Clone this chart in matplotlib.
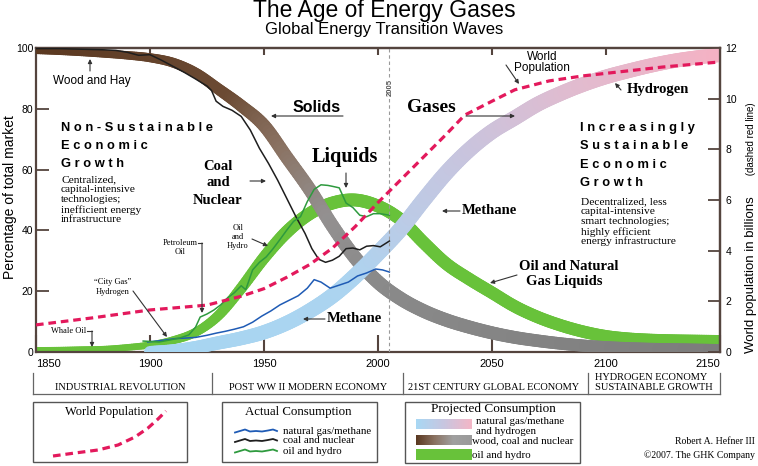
import numpy as np
import matplotlib.pyplot as plt
from matplotlib.collections import LineCollection
from matplotlib.colors import to_rgb
from matplotlib.patches import Rectangle

plt.rcParams['font.family'] = ['Liberation Sans', 'DejaVu Sans']
plt.rcParams['lines.scale_dashes'] = False
SERIF = ['Liberation Serif', 'DejaVu Serif']

############ data ############
# projected waves, % of total market
years = list(range(1850, 2151, 10))
solids = [99.0, 98.8, 98.5, 98.1, 97.6, 96.8, 95.2, 91.8, 86.5, 81.0, 74.5,
          64.0, 53.5, 41.5, 31.0, 23.0, 17.5, 13.5, 10.5, 8.2, 6.3,
          4.8, 3.7, 2.8, 2.1, 1.6, 1.3, 1.1, 1.0, 0.9, 0.8]
liquids = [0.8, 0.8, 0.9, 1.0, 1.5, 2.3, 3.8, 6.5, 12.0, 21.0, 31.0,
           39.5, 45.5, 49.0, 50.0, 48.0, 43.5, 36.0, 29.0, 24.0, 19.5,
           15.0, 11.5, 8.8, 6.7, 5.2, 4.4, 4.0, 3.8, 3.7, 3.6]
gas_years = list(range(1900, 2151, 10))
gases = [0.0, 0.5, 1.5, 3.0, 4.5, 6.5, 9.5, 13.5, 18.5, 25.0, 32.5,
         40.5, 50.0, 59.0, 66.5, 72.5, 77.0, 81.5, 85.0, 88.0, 90.5,
         92.5, 94.3, 95.8, 96.9, 97.7]

# actual consumption, % of total market
coal_years = [1850, 1860, 1870, 1880, 1885, 1890, 1895, 1900, 1905, 1910, 1915, 1920, 1925,
              1927, 1929, 1932, 1936, 1940, 1944, 1948, 1952, 1956, 1960, 1964, 1968,
              1971, 1974, 1977, 1980, 1983, 1986, 1989, 1992, 1995, 1998, 2001, 2005]
coal_vals = [99.8, 99.8, 99.6, 99.4, 99.2, 98.6, 97.6, 97.8, 96.0, 94.0, 92.0, 89.8, 87.5,
             86.0, 82.5, 80.8, 79.5, 77.5, 73.0, 67.0, 62.0, 56.5, 50.5, 44.5, 39.0,
             34.0, 30.5, 29.5, 30.2, 31.5, 34.0, 34.2, 33.6, 34.8, 35.0, 34.6, 36.5]
oil_years = [1897, 1904, 1909, 1913, 1917, 1920, 1922, 1925, 1928, 1931, 1934, 1937,
             1940, 1942, 1945, 1948, 1951, 1954, 1957, 1960, 1963, 1966, 1969, 1972,
             1975, 1978, 1980, 1983, 1986, 1989, 1992, 1995, 1998, 2001, 2005]
oil_vals = [3.6, 3.3, 4.0, 4.6, 5.6, 8.2, 11.5, 12.5, 13.8, 15.5, 17.8, 19.5,
            21.8, 20.5, 27.0, 29.5, 31.3, 34.0, 37.0, 40.1, 43.0, 44.5, 49.5, 53.5,
            55.0, 54.8, 54.5, 54.0, 49.0, 47.5, 45.0, 44.5, 45.5, 45.5, 45.0]
ngas_years = [1899, 1903, 1907, 1911, 1916, 1920, 1925, 1929, 1933, 1937, 1941, 1945,
              1949, 1953, 1957, 1961, 1965, 1969, 1972, 1975, 1979, 1983, 1987, 1991,
              1995, 1999, 2002, 2005]
ngas_vals = [3.3, 3.6, 4.0, 4.4, 4.6, 4.8, 5.5, 6.2, 6.8, 7.5, 8.3, 9.8,
             11.8, 13.5, 15.5, 17.0, 18.5, 21.0, 23.8, 23.0, 21.0, 22.0, 23.0, 25.0,
             26.0, 27.3, 27.0, 26.3]

# world population, billions (right axis)
pop_years = [1850, 1875, 1900, 1925, 1940, 1950, 1960, 1970, 1980, 1990, 2000,
             2010, 2020, 2030, 2038, 2050, 2060, 2075, 2090, 2100, 2125, 2150]
pop_vals = [1.07, 1.35, 1.66, 1.85, 2.2, 2.5, 2.95, 3.45, 4.1, 4.95, 5.9,
            6.8, 7.7, 8.6, 9.35, 9.9, 10.35, 10.7, 10.9, 11.0, 11.25, 11.45]

x_ticks = [1850, 1900, 1950, 2000, 2050, 2100, 2150]
eras = ['INDUSTRIAL REVOLUTION', 'POST WW II MODERN ECONOMY', '21ST CENTURY GLOBAL ECONOMY']

# legend sample shapes (pixels)
leg_pop_x = [53, 75, 98, 118, 135, 148, 158, 166]
leg_pop_y = [456, 453, 450, 445, 437, 428, 419, 411]
leg_wig_x = [235, 240, 245, 250, 256, 262, 268, 273, 277]
leg_wig_dy = [1.5, 0, -1.5, 0.5, 0, 0.5, -0.5, -1.5, 0]

############ colours ############
spc = '#54443e'
RED = '#e3195c'
GREEN = '#68c23a'
solid_stops = ([1850, 1935, 1958, 1978, 2000, 2150],
               ['#5a3820', '#6b4a33', '#8a7262', '#939090', '#8a8a8a', '#7c7c7c'])
gas_stops = ([1900, 1990, 2015, 2045, 2085, 2150],
             ['#a6d6f2', '#acd4f0', '#bccbe6', '#cbc3dc', '#e0bcd0', '#f4b2c4'])


def smooth(xs, ys, n=10):
    # catmull-rom path through the read points, only for drawing
    p = np.column_stack([xs, ys]).astype(float)
    p = np.vstack([2 * p[0] - p[1], p, 2 * p[-1] - p[-2]])
    out = []
    t = np.linspace(0, 1, n, endpoint=False)[:, None]
    for i in range(1, len(p) - 2):
        p0, p1, p2, p3 = p[i - 1], p[i], p[i + 1], p[i + 2]
        out.append(0.5 * (2 * p1 + (-p0 + p2) * t + (2 * p0 - 5 * p1 + 4 * p2 - p3) * t ** 2
                          + (-p0 + 3 * p1 - 3 * p2 + p3) * t ** 3))
    out.append(p[-2][None, :])
    out = np.vstack(out)
    return out[:, 0], out[:, 1]


def band(ax, xs, ys, w_years, w_px, c_years, c_list, z):
    px, py = smooth(xs, ys)
    pts = np.column_stack([px, py]).reshape(-1, 1, 2)
    segs = np.concatenate([pts[:-1], pts[1:]], axis=1)
    mid = (px[:-1] + px[1:]) / 2
    rgb = np.array([to_rgb(c) for c in c_list])
    cols = np.column_stack([np.interp(mid, c_years, rgb[:, k]) for k in range(3)])
    lws = np.interp(mid, w_years, w_px) * 0.72
    lc = LineCollection(segs, colors=cols, linewidths=lws, capstyle='round',
                        joinstyle='round', zorder=z)
    ax.add_collection(lc)


fig = plt.figure(figsize=(7.58, 4.66), dpi=100)
ax = fig.add_axes([36 / 758, 1 - 352 / 466, 684 / 758, 304 / 466])
ax.set_xlim(1850, 2150)
ax.set_ylim(0, 100)

band(ax, years, liquids, [1850, 1900, 1960, 2150], [5, 7, 13, 12],
     [1850, 2150], [GREEN, GREEN], 2)
band(ax, years, solids, [1850, 1900, 1950, 2000, 2150], [6, 9, 13, 14, 11],
     solid_stops[0], solid_stops[1], 3)
band(ax, gas_years, gases, [1900, 1990, 2150], [12, 16, 14],
     gas_stops[0], gas_stops[1], 4)

ax.plot(ngas_years, ngas_vals, color='#1f5bb5', lw=1.1, zorder=6)
ax.plot(coal_years, coal_vals, color='#1e1e1e', lw=1.1, zorder=6)
ax.plot(oil_years, oil_vals, color='#2e9a3e', lw=1.1, zorder=6)
ax.axvline(2005, color='#9a9a9a', lw=0.8, dashes=(2.5, 2), zorder=7)

for s in ax.spines.values():
    s.set_color(spc)
    s.set_linewidth(1.6)
ax.set_yticks([0, 20, 40, 60, 80, 100])
ax.tick_params(axis='y', direction='in', length=9, width=1.3, color=spc,
               labelsize=7.5, pad=2)
ax.set_xticks(x_ticks, [str(v) for v in x_ticks])
ax.tick_params(axis='x', direction='in', length=12, width=1.5, color=spc,
               labelsize=8, pad=5)
xl = ax.get_xticklabels()
xl[0].set_ha('left')
xl[-1].set_ha('right')

sec = ax.secondary_xaxis('top')
sec.set_xticks([1900, 1950, 2000, 2050, 2100])
sec.set_xticklabels([])
sec.tick_params(direction='in', length=5, width=1.5, color=spc)
sec.spines['top'].set_color(spc)
sec.spines['top'].set_linewidth(1.6)

ax2 = ax.twinx()
ax2.set_ylim(0, 12)
ax2.set_yticks(range(0, 13, 2))
ax2.tick_params(direction='in', length=9, width=1.3, color=spc, labelsize=7.5, pad=4)
for k in ['left', 'top', 'bottom']:
    ax2.spines[k].set_visible(False)
ax2.spines['right'].set_color(spc)
ax2.spines['right'].set_linewidth(1.6)
ax2.plot(pop_years, pop_vals, color=RED, lw=2.3, dashes=(5.5, 3.5), zorder=8)

############ overlay in pixel units for the notes ############
ov = fig.add_axes([0, 0, 1, 1])
ov.axis('off')


def txt(x, y, s, size, serif=False, bold=False, ha='left', **kw):
    ov.text(x, y, s, fontsize=size, family=SERIF if serif else None,
            fontweight='bold' if bold else 'normal', ha=ha, va='center', **kw)


def arrow(tail, head):
    ov.annotate('', xy=head, xytext=tail,
                arrowprops=dict(arrowstyle='-|>', color='#333333', lw=0.8,
                                mutation_scale=6, shrinkA=0, shrinkB=0))


ov.text(384, 17, 'The Age of Energy Gases', fontsize=16.5, ha='center', va='baseline')
ov.text(384, 34, 'Global Energy Transition Waves', fontsize=12, ha='center', va='baseline')

ov.text(10, 197, 'Percentage of total market', fontsize=10, rotation=90,
        ha='center', va='center')
ov.text(751, 353, 'World population in billions', fontsize=9.5, rotation=90,
        ha='left', va='center', rotation_mode='anchor')
ov.text(751, 178, ' (dashed red line)', fontsize=7, rotation=90,
        ha='left', va='center', rotation_mode='anchor')

txt(53, 81, 'Wood and Hay', 8.5)
arrow((90, 71), (90, 59))
txt(293, 108, 'Solids', 11.5, bold=True)
arrow((343, 116), (271, 116))

for i, s in enumerate(['Non-Sustainable', 'Economic', 'Growth']):
    txt(61, 128 + 18 * i, ' '.join(s), 9.3, bold=True)
for i, s in enumerate(['Centralized,', 'capital-intensive', 'technologies;',
                       'inefficient energy', 'infrastructure']):
    txt(61, 180 + 9.9 * i, s, 8.2, serif=True)

for i, s in enumerate(['Increasingly', 'Sustainable', 'Economic', 'Growth']):
    txt(580, 128 + 18.3 * i, ' '.join(s), 9.3, bold=True)
for i, s in enumerate(['Decentralized, less', 'capital-intensive', 'smart technologies;',
                       'highly efficient', 'energy infrastructure']):
    txt(581, 202 + 9.9 * i, s, 8.2, serif=True)

for i, s in enumerate(['Coal', 'and', 'Nuclear']):
    txt(218, 166 + 17 * i, s, 10.5, serif=True, bold=True, ha='center')
arrow((250, 181), (266, 181))
txt(345, 157, 'Liquids', 14.5, serif=True, bold=True, ha='center')
arrow((346, 173), (346, 188))
txt(431, 108, 'Gases', 14, serif=True, bold=True, ha='center')
arrow((466, 116), (515, 116))
txt(542, 57, 'World', 8.5, ha='center')
txt(542, 68, 'Population', 8.5, ha='center')
arrow((506, 65), (519, 84))
txt(627, 90, 'Hydrogen', 10.5, serif=True, bold=True)
arrow((621, 90), (615, 83))
txt(462, 211, 'Methane', 10.5, serif=True, bold=True)
arrow((460, 211), (442, 211))
txt(327, 319, 'Methane', 10.5, serif=True, bold=True)
arrow((325, 319), (303, 319))
txt(569, 266, 'Oil and Natural', 10.5, serif=True, bold=True, ha='center')
txt(564, 282, 'Gas Liquids', 10.5, serif=True, bold=True, ha='center')
arrow((517, 275), (490, 283))
for i, s in enumerate(['Oil', 'and', 'Hydro']):
    txt(238, 228 + 9 * i, s, 6, serif=True, ha='center')
arrow((252, 239), (268, 246))
txt(180, 243, 'Petroleum', 6, serif=True, ha='center')
txt(180, 252, 'Oil', 6, serif=True, ha='center')
ov.plot([198, 202], [243, 243], color='#333333', lw=0.8)
arrow((202, 243), (202, 313))
txt(113, 282, '\u201cCity Gas\u201d', 6, serif=True, ha='center')
txt(113, 292, 'Hydrogen', 6, serif=True, ha='center')
arrow((133, 291), (167, 337))
txt(51, 331, 'Whale Oil', 6, serif=True)
ov.plot([87, 92], [331, 331], color='#333333', lw=0.8)
arrow((92, 331), (92, 347))
ov.text(390, 87, '2005', fontsize=5.5, rotation=90, ha='center', va='center',
        color='#555555', fontweight='bold',
        bbox=dict(fc='white', ec='none', pad=0.5))

############ era strip ############
ov.plot([33, 720], [394, 394], color='#666666', lw=0.9)
for xv in [33, 212, 403, 588, 720]:
    ov.plot([xv, xv], [373, 394], color='#666666', lw=0.9)
for xc, s in zip([120, 308, 494], eras):
    txt(xc, 387, s, 7.5, serif=True, ha='center')
txt(595, 377, 'HYDROGEN ECONOMY', 7.5, serif=True)
txt(595, 388, 'SUSTAINABLE GROWTH', 7.5, serif=True)

############ legend boxes ############
for (x0, y0, w, h) in [(33, 402, 154, 60), (222, 402, 155, 60), (405, 402, 175, 61)]:
    ov.add_patch(Rectangle((x0, y0), w, h, fill=False, ec='#555555', lw=1))

txt(109, 412, 'World Population', 9, serif=True, ha='center')
ov.plot(leg_pop_x, leg_pop_y, color=RED, lw=2.3, dashes=(5.5, 3.5))

txt(298, 412, 'Actual Consumption', 9.3, serif=True, ha='center')
for yy, c, s in [(431, '#1f5bb5', 'natural gas/methane'), (440.5, '#1e1e1e', 'coal and nuclear'),
                 (451, '#2e9a3e', 'oil and hydro')]:
    ov.plot(leg_wig_x, [yy + d for d in leg_wig_dy], color=c, lw=1.3)
    txt(283, yy, s, 7.8, serif=True)

txt(493, 409, 'Projected Consumption', 9.5, serif=True, ha='center')


def grad_img(stops, n=120):
    pos = np.linspace(0, 1, len(stops))
    rgb = np.array([to_rgb(c) for c in stops])
    u = np.linspace(0, 1, n)
    return np.stack([np.column_stack([np.interp(u, pos, rgb[:, k]) for k in range(3)])])


ov.imshow(grad_img(['#a8d8f4', '#c8c6e0', '#f4b6c6']), extent=(416, 472, 429, 419),
          aspect='auto', interpolation='bilinear')
ov.imshow(grad_img(['#5a3820', '#8a7262', '#a0a0a0', '#9a9a9a']), extent=(416, 472, 445, 435),
          aspect='auto', interpolation='bilinear')
ov.add_patch(Rectangle((416, 449), 56, 11, fc=GREEN, ec='none'))
txt(476, 421.5, 'natural gas/methane', 7.8, serif=True)
txt(476, 431.5, 'and hydrogen', 7.8, serif=True)
txt(472, 441, 'wood, coal and nuclear', 7.8, serif=True)
txt(472, 455, 'oil and hydro', 7.8, serif=True)

txt(755, 441, 'Robert A. Hefner III', 7, serif=True, ha='right')
txt(755, 455, '\u00a92007. The GHK Company', 7, serif=True, ha='right')

ov.set_xlim(0, 758)
ov.set_ylim(466, 0)

fig.savefig('out.png', dpi=100)
